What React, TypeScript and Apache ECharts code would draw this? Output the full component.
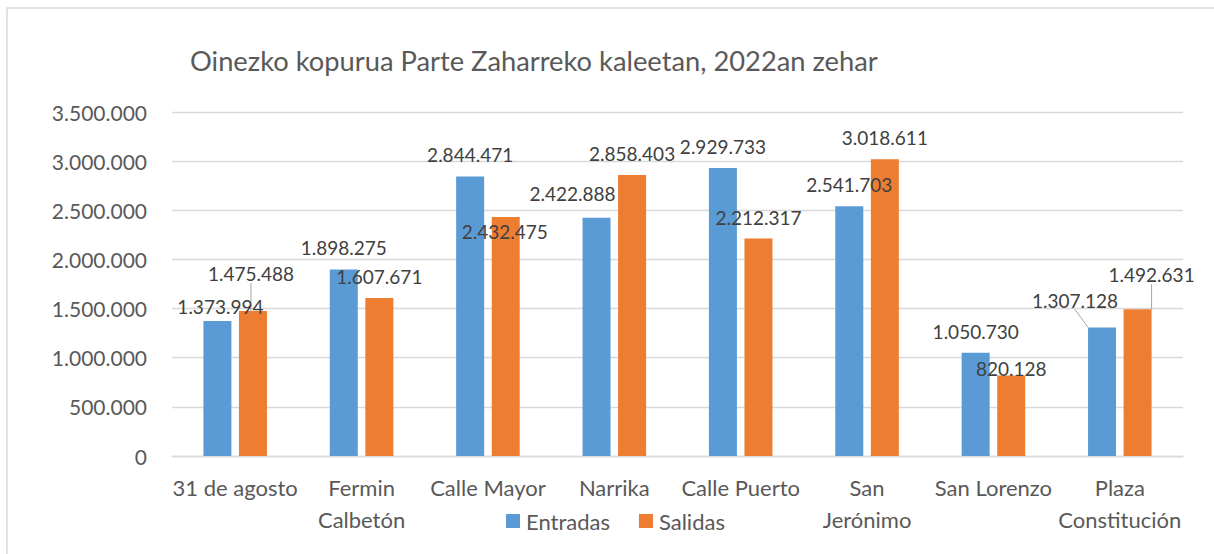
import React, { useEffect, useRef } from "react";
import * as echarts from "echarts";

const categories = [
  "31 de agosto",
  "Fermin\nCalbetón",
  "Calle Mayor",
  "Narrika",
  "Calle Puerto",
  "San\nJerónimo",
  "San Lorenzo",
  "Plaza\nConstitución",
];
const entradas = [1373994, 1898275, 2844471, 2422888, 2929733, 2541703, 1050730, 1307128];
const salidas = [1475488, 1607671, 2432475, 2858403, 2212317, 3018611, 820128, 1492631];
const seriesNames = ["Entradas", "Salidas"];
const titleText = "Oinezko kopurua Parte Zaharreko kaleetan, 2022an zehar";

// label shifts (px) relative to default top placement, per series
const labelShift: number[][][] = [
  [[3, 7], [0, 0], [0, 0], [-24, -3], [0, 0], [0, 0], [0, 0], [-27, -6]],
  [[-2, -16], [0, 0], [-1, 36], [0, 0], [0, 0], [0, 0], [0, 15], [14, -13]],
];
const leaderLines: boolean[][] = [
  [false, false, false, false, false, false, false, true],
  [true, false, false, false, false, false, false, true],
];

const FONT = "Lato";
const fmt = (v: number) => String(Math.round(v)).replace(/\B(?=(\d{3})+(?!\d))/g, ".");

export default function App() {
  const ref = useRef<HTMLDivElement>(null);
  useEffect(() => {
    if (!ref.current) return;
    const chart = echarts.init(ref.current, null, { renderer: "svg" });
    const colors = ["#5B9BD5", "#ED7D31"];
    const mk = (vals: number[], si: number) => ({
      name: seriesNames[si],
      type: "bar",
      barWidth: 28,
      barGap: "27%",
      itemStyle: { color: colors[si] },
      label: {
        show: true,
        position: "top",
        distance: 12,
        color: "#404040",
        fontFamily: FONT,
        fontSize: 19,
        formatter: (p: any) => fmt(p.value),
      },
      labelLine: { show: false, lineStyle: { color: "#A6A6A6", width: 1 } },
      labelLayout: (p: any) => {
        const s = labelShift[si][p.dataIndex];
        return { dx: s[0], dy: s[1] };
      },
      data: vals.map((v, i) => ({
        value: v,
        labelLine: { show: leaderLines[si][i], lineStyle: { color: "#A6A6A6", width: 1 } },
      })),
    });
    chart.setOption({
      animation: false,
      backgroundColor: "#ffffff",
      textStyle: { fontFamily: FONT },
      title: {
        text: titleText,
        left: 185,
        top: 42,
        textStyle: { fontFamily: FONT, fontSize: 27.3, fontWeight: "normal", color: "#595959" },
      },
      graphic: [
        {
          type: "rect",
          shape: { x: 7, y: 8, width: 1240, height: 600 },
          style: { fill: "none", stroke: "#D9D9D9", lineWidth: 1.5 },
          silent: true,
        },
      ],
      legend: {
        left: 506,
        top: 510,
        padding: 0,
        itemWidth: 14,
        itemHeight: 14,
        itemGap: 29,
        icon: "rect",
        textStyle: { fontFamily: FONT, fontSize: 22, color: "#595959", padding: [0, 0, 0, 1] },
        data: seriesNames,
      },
      grid: { left: 172, right: 31, top: 112, bottom: 98, containLabel: false },
      xAxis: {
        type: "category",
        data: categories,
        axisTick: { show: false },
        axisLine: { lineStyle: { color: "#D9D9D9", width: 1.3 } },
        axisLabel: {
          interval: 0,
          margin: 15,
          color: "#595959",
          fontFamily: FONT,
          fontSize: 22,
          lineHeight: 32,
        },
      },
      yAxis: {
        type: "value",
        min: 0,
        max: 3500000,
        interval: 500000,
        axisLine: { show: false },
        axisTick: { show: false },
        splitLine: { lineStyle: { color: "#D9D9D9", width: 1.3 } },
        axisLabel: {
          margin: 25,
          color: "#595959",
          fontFamily: FONT,
          fontSize: 21,
          formatter: (v: number) => fmt(v),
        },
      },
      series: [mk(entradas, 0), mk(salidas, 1)],
    });
    return () => chart.dispose();
  }, []);
  return <div ref={ref} style={{ position: "fixed", left: 0, top: 0, width: 1214, height: 554 }} />;
}
